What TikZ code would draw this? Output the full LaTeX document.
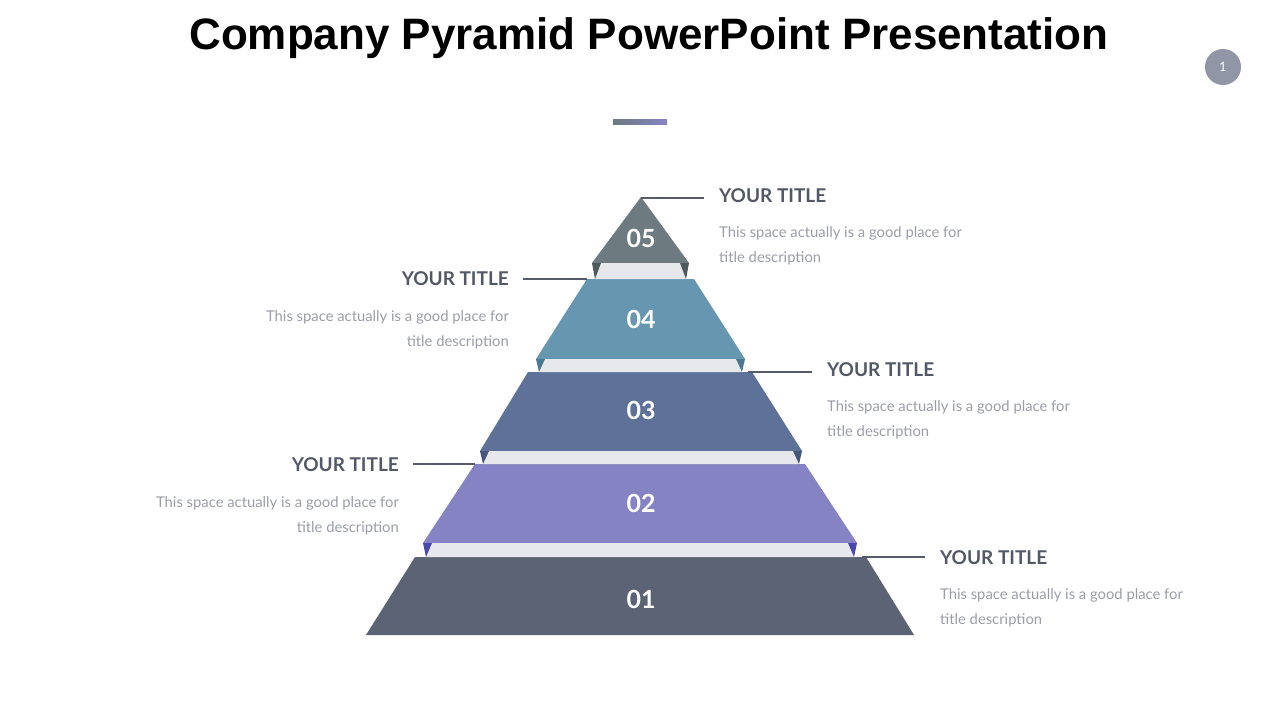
\documentclass[tikz,border=0pt]{standalone}
\usepackage{fontspec}
\setmainfont{Lato}
\newfontfamily\headfont{Liberation Sans}
\definecolor{tierA}{RGB}{92,99,116}
\definecolor{tierB}{RGB}{134,131,196}
\definecolor{tierC}{RGB}{94,113,152}
\definecolor{tierD}{RGB}{103,150,176}
\definecolor{tierE}{RGB}{109,123,128}
\definecolor{foldB}{RGB}{75,71,176}
\definecolor{foldC}{RGB}{70,85,126}
\definecolor{foldD}{RGB}{74,122,146}
\definecolor{foldE}{RGB}{77,90,93}
\definecolor{stripgray}{RGB}{230,232,236}
\definecolor{linegray}{RGB}{85,91,104}
\definecolor{titlegray}{RGB}{82,88,102}
\definecolor{descgray}{RGB}{155,157,168}
\definecolor{pagegray}{RGB}{144,150,166}

\begin{document}
\begin{tikzpicture}[x=1pt,y=-1pt,
    num/.style={text=white,font=\fontsize{25}{25}\selectfont\bfseries},
    ttl/.style={text=titlegray,font=\fontsize{19}{19}\selectfont\bfseries,inner sep=0pt},
    desc/.style={text=descgray,font=\fontsize{14.8}{25}\selectfont,inner sep=0pt},
    lead/.style={draw=linegray,line width=2pt}]
    \useasboundingbox (0,0) rectangle (1280,720);
    \node[font=\headfont\fontsize{44}{44}\selectfont\bfseries] (head) at (649,38) {Company Pyramid PowerPoint Presentation};
    \node[circle,fill=pagegray,minimum size=36pt,inner sep=0pt,text=white,font=\fontsize{13}{13}\selectfont] (page) at (1223,67) {1};
    \shade[left color=tierE,right color=tierB] (613,119) rectangle (667,124);
    % tiers
    \foreach \la/\ra/\ya/\lb/\rb/\yb/\col/\n/\yn in {641/641/197/592/689/263/tierE/05/238,
            587/694/279/536/745/359/tierD/04/319, 528/752/372/480/802/451/tierC/03/410,
            475/805/464/423/857/543/tierB/02/503, 415/866/557/366/914/635/tierA/01/599} {
        \fill[\col] (\la,\ya) -- (\ra,\ya) -- (\rb,\yb) -- (\lb,\yb) -- cycle;
        \node[num] (num\n) at (641,\yn) {\n};
    }
    \foreach \l/\r/\yb/\yg/\col in {592/689/263/279/foldE, 536/745/359/372/foldD,
            480/802/451/464/foldC, 423/857/543/557/foldB} {
        \fill[stripgray] ({\l+9},\yb) -- ({\r-9},\yb) -- ({\r-3},\yg) -- ({\l+3},\yg) -- cycle;
        \fill[\col] (\l,\yb) -- ({\l+9},\yb) -- ({\l+3},\yg) -- cycle;
        \fill[\col] (\r,\yb) -- ({\r-9},\yb) -- ({\r-3},\yg) -- cycle;
    }
    % labels on the right
    \foreach \n/\xs/\xe/\y/\t in {05/641/704/198/4, 03/748/812/372/4, 01/862/925/557/7} {
        \coordinate (s\n) at (\xs,\y);
        \coordinate (e\n) at (\xe,\y);
        \draw[lead] (s\n) -- (e\n);
        \node[ttl,anchor=base west] (ttl\n) at ({\xe+15},{\y+\t}) {YOUR TITLE};
        \node[desc,anchor=north west,align=left] (dsc\n) at ({\xe+15},{\y+\t+24}) {This space actually is a good place for\\title description};
    }
    % labels on the left
    \foreach \n/\xs/\xe/\y/\t in {04/587/523/279/6, 02/475/413/464/7} {
        \coordinate (s\n) at (\xs,\y);
        \coordinate (e\n) at (\xe,\y);
        \draw[lead] (s\n) -- (e\n);
        \node[ttl,anchor=base east] (ttl\n) at ({\xe-14},{\y+\t}) {YOUR TITLE};
        \node[desc,anchor=north east,align=right] (dsc\n) at ({\xe-14},{\y+\t+25}) {This space actually is a good place for\\title description};
    }
\end{tikzpicture}
\end{document}
